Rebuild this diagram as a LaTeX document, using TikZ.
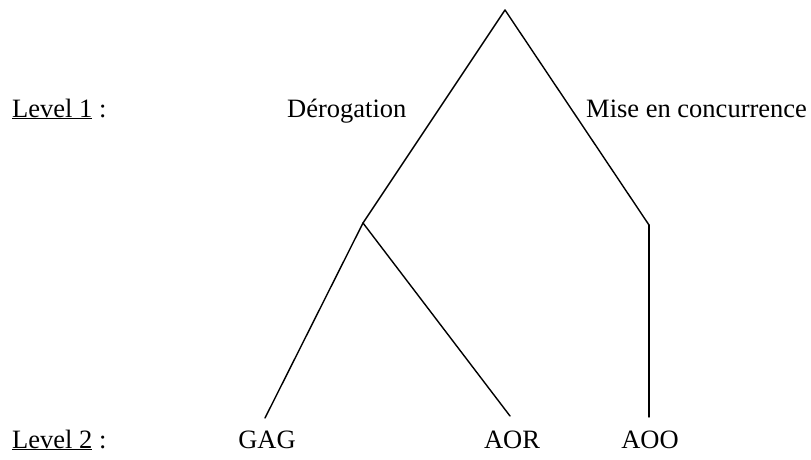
\documentclass[tikz,border=0pt]{standalone}
\usepackage{fontspec}
\setmainfont{Liberation Serif}
\begin{document}
\begin{tikzpicture}[x=1pt,y=-1pt,
  lbl/.style={inner sep=0pt,font=\fontsize{26.5}{30}\selectfont},
  branch/.style={line width=1.4pt,line cap=round,line join=round}]
\useasboundingbox (0,0) rectangle (811,460);
% tree points
\coordinate (root) at (505,10);
\coordinate (der) at (363,223);
\coordinate (mec) at (649,225);
\coordinate (gag) at (265,418);
\coordinate (aor) at (510,416);
\coordinate (aoo) at (649,417);
% labels
\node[lbl,anchor=base west] (l1) at (12,117) {\underline{Level 1} :};
\node[lbl,anchor=base west] (tder) at (287,117) {Dérogation};
\node[lbl,anchor=base west] (tmec) at (586,117) {Mise en concurrence};
\node[lbl,anchor=base west] (l2) at (12,448) {\underline{Level 2} :};
\node[lbl,anchor=base] (tgag) at (267,448) {GAG};
\node[lbl,anchor=base] (taor) at (512,448) {AOR};
\node[lbl,anchor=base] (taoo) at (650,448) {AOO};
% branches
\draw[branch] (root) -- (der);
\draw[branch] (root) -- (mec);
\draw[branch] (mec) -- (aoo);
\draw[branch] (der) -- (gag);
\draw[branch] (der) -- (aor);
\end{tikzpicture}
\end{document}
